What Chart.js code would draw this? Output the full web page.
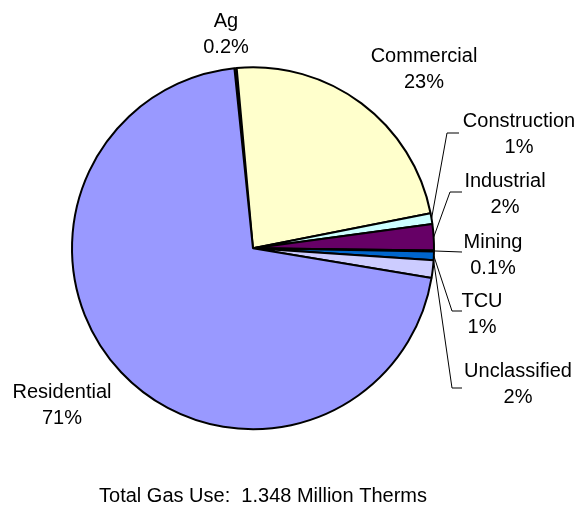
<!DOCTYPE html>
<html>
<head>
<meta charset="utf-8">
<script src="https://cdn.jsdelivr.net/npm/chart.js@4.4.0/dist/chart.umd.min.js"></script>
<style>
  html, body { margin: 0; padding: 0; background: #fff; }
  canvas { display: block; }
</style>
</head>
<body>
<canvas id="gasChart" width="577" height="508"></canvas>
<script>
// gas use by sector, thousand therms
const sectors = ['Ag', 'Commercial', 'Construction', 'Industrial', 'Mining', 'TCU', 'Unclassified', 'Residential'];
const therms = [2.7, 314.5, 13.1, 31.3, 1.3, 10.5, 21.0, 953.6];
const sliceColors = ['#993366', '#FFFFCC', '#CCFFFF', '#660066', '#FF8080', '#0066CC', '#CCCCFF', '#9999FF'];
const totalLabel = 'Total Gas Use:  1.348 Million Therms';

// label anchor (center x, first baseline); leaders start on the rim at
// fraction `at` of the slice and run to `bend` then `end`
const labelSpots = [
  { x: 226, y: 27 },
  { x: 424, y: 62 },
  { x: 519, y: 127, at: 0.5, bend: [447, 133], end: [459, 133] },
  { x: 505, y: 187, at: 0.5, bend: [450, 192], end: [462, 192] },
  { x: 493, y: 248, at: 0.5, end: [462, 252] },
  { x: 482, y: 307, at: 0.5, bend: [452, 311], end: [462, 311] },
  { x: 518, y: 377, at: 0, bend: [452, 388], end: [462, 388] },
  { x: 62, y: 398 }
];

const FONT = '20px "Liberation Sans", Arial, sans-serif';
const LINE_GAP = 26;

function pctText(v, total) {
  const p = v / total * 100;
  return (p < 0.5 ? p.toFixed(1) : Math.round(p)) + '%';
}

const sliceLabels = {
  id: 'sliceLabels',
  afterDatasetsDraw(chart) {
    const ctx = chart.ctx;
    const arcs = chart.getDatasetMeta(0).data;
    const total = therms.reduce((a, b) => a + b, 0);
    ctx.save();

    // leader lines
    ctx.strokeStyle = '#000';
    ctx.lineWidth = 1;
    labelSpots.forEach((spot, i) => {
      if (!spot.end) return;
      const a = arcs[i].getProps(['x', 'y', 'startAngle', 'endAngle', 'outerRadius'], true);
      const ang = a.startAngle + (a.endAngle - a.startAngle) * spot.at;
      ctx.beginPath();
      ctx.moveTo(a.x + Math.cos(ang) * a.outerRadius, a.y + Math.sin(ang) * a.outerRadius);
      if (spot.bend) ctx.lineTo(spot.bend[0], spot.bend[1]);
      ctx.lineTo(spot.end[0], spot.end[1]);
      ctx.stroke();
    });

    // two-line labels
    ctx.fillStyle = '#000';
    ctx.font = FONT;
    ctx.textAlign = 'center';
    ctx.textBaseline = 'alphabetic';
    labelSpots.forEach((spot, i) => {
      ctx.fillText(sectors[i], spot.x, spot.y);
      ctx.fillText(pctText(therms[i], total), spot.x, spot.y + LINE_GAP);
    });

    ctx.fillText(totalLabel, 263, 502);
    ctx.restore();
  }
};

new Chart(document.getElementById('gasChart'), {
  type: 'pie',
  data: {
    labels: sectors,
    datasets: [{
      data: therms,
      backgroundColor: sliceColors,
      borderColor: '#000',
      borderWidth: 2,
      radius: 181,
      hoverOffset: 0
    }]
  },
  options: {
    responsive: false,
    animation: false,
    rotation: -5.9,
    layout: { padding: { left: 40, right: 111, top: 40, bottom: 51.4 } },
    events: [],
    plugins: {
      legend: { display: false },
      tooltip: { enabled: false },
      title: { display: false }
    }
  },
  plugins: [sliceLabels]
});
</script>
</body>
</html>
